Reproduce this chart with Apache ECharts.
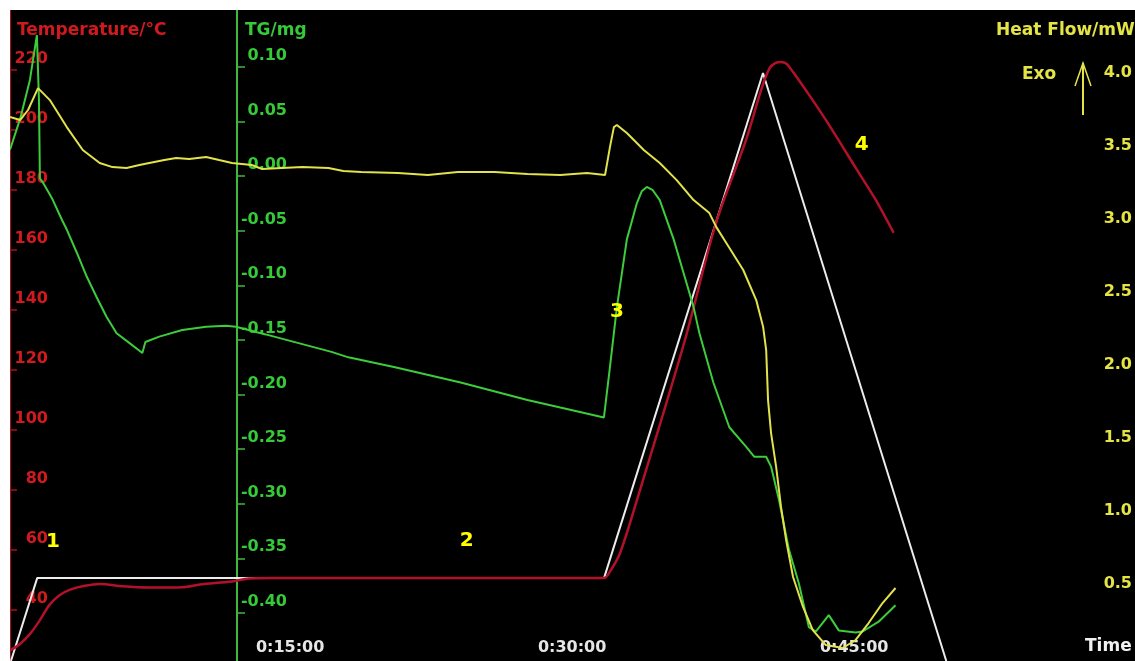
<!DOCTYPE html>
<html>
<head>
<meta charset="utf-8">
<script src="https://cdn.jsdelivr.net/npm/echarts@6/dist/echarts.min.js"></script>
<style>
  html, body { margin: 0; padding: 0; background: #ffffff; width: 1135px; height: 661px; overflow: hidden; }
  #chart { position: absolute; left: 10px; top: 10px; width: 1125px; height: 651px; }
</style>
</head>
<body>
<div id="chart"></div>
<script>
// Time in minutes, temperature in °C, TG in mg, heat flow in mW

// programmed (furnace set) temperature
const programTemp = [
  [0.15, 23], [1.55, 50.7], [31.7, 50.7], [40.15, 219], [49.9, 23]
];

// measured sample temperature
const sampleTemp = [
  [0.1, 26.5], [0.6, 28.5], [1.2, 32.3], [1.7, 36.7], [2.2, 41.7], [2.75, 45],
  [3.3, 46.8], [4.0, 48], [4.9, 48.7], [6.1, 47.9], [7.5, 47.5], [9.3, 47.6],
  [10.2, 48.5], [11.9, 49.5], [12.8, 50.5], [14, 50.7], [22, 50.7], [31.7, 50.7],
  [32.0, 52.7], [32.55, 59], [33.45, 76.7], [36.0, 130], [37.65, 169], [39.25, 196.7],
  [40.05, 213.3], [40.5, 220.6], [40.8, 222.3], [41.1, 222.7], [41.4, 222.1], [41.75, 219.3],
  [42.6, 211.7], [43.5, 203.3], [44.4, 194.3], [45.25, 185.7], [46.15, 176.7], [47.1, 165.7]
];

// thermogravimetric mass change
const tgMass = [
  [0.1, 0.024], [0.65, 0.053], [1.16, 0.088], [1.53, 0.129], [1.64, 0.070], [1.69, -0.002],
  [1.85, -0.006], [2.12, -0.014], [2.38, -0.022], [2.86, -0.040], [3.12, -0.049],
  [3.65, -0.070], [4.18, -0.092], [4.71, -0.111], [5.24, -0.129], [5.77, -0.144],
  [6.46, -0.153], [7.14, -0.162], [7.30, -0.152], [8.04, -0.147], [9.26, -0.141],
  [10.53, -0.138], [11.59, -0.137], [12.12, -0.138], [13.70, -0.145], [15.45, -0.153],
  [17.20, -0.161], [18.10, -0.166], [20.58, -0.175], [24.07, -0.189], [27.62, -0.205],
  [29.37, -0.212], [31.69, -0.221], [32.01, -0.175], [32.38, -0.120], [32.91, -0.058],
  [33.44, -0.025], [33.70, -0.014], [33.97, -0.010], [34.29, -0.013], [34.66, -0.022],
  [35.40, -0.058], [35.93, -0.089], [36.46, -0.120], [36.77, -0.144], [37.51, -0.189],
  [38.36, -0.230], [39.26, -0.248], [39.68, -0.257], [40.32, -0.257], [40.58, -0.266],
  [41.01, -0.297], [41.53, -0.342], [42.06, -0.373], [42.59, -0.413], [42.96, -0.417],
  [43.65, -0.402], [44.18, -0.416], [45.08, -0.418], [45.45, -0.417], [46.30, -0.408],
  [47.20, -0.393]
];

// DSC heat flow (exo up)
const heatFlow = [
  [0.1, 3.781], [0.64, 3.760], [1.06, 3.829], [1.59, 3.979], [2.22, 3.897], [3.12, 3.712],
  [3.97, 3.555], [4.87, 3.466], [5.55, 3.438], [6.30, 3.432], [6.98, 3.452], [7.51, 3.466],
  [8.31, 3.486], [8.94, 3.500], [9.63, 3.493], [10.53, 3.507], [11.22, 3.486],
  [11.91, 3.466], [12.96, 3.452], [13.51, 3.425], [14.55, 3.432], [15.66, 3.438],
  [17.04, 3.432], [17.83, 3.411], [18.78, 3.404], [20.74, 3.397], [22.33, 3.384],
  [23.92, 3.404], [25.87, 3.404], [27.62, 3.390], [29.37, 3.384], [30.79, 3.397],
  [31.75, 3.384], [32.01, 3.575], [32.22, 3.712], [32.38, 3.726], [32.91, 3.671],
  [33.81, 3.555], [34.66, 3.466], [35.56, 3.349], [36.46, 3.212], [37.30, 3.123],
  [37.67, 3.027], [38.20, 2.918], [39.10, 2.733], [39.79, 2.527], [40.16, 2.342],
  [40.32, 2.185], [40.42, 1.842], [40.58, 1.616], [40.85, 1.384], [41.11, 1.110],
  [41.38, 0.884], [41.75, 0.630], [42.28, 0.425], [42.80, 0.267], [43.49, 0.164],
  [44.39, 0.144], [45.08, 0.199], [45.77, 0.315], [46.51, 0.452], [47.20, 0.555]
];

// axis tick values
const timeTicks = [15, 30, 45];
const tempTicks = [40, 60, 80, 100, 120, 140, 160, 180, 200, 220];
const tgTicks = [0.10, 0.05, 0.00, -0.05, -0.10, -0.15, -0.20, -0.25, -0.30, -0.35, -0.40];
const hfTicks = [0.5, 1.0, 1.5, 2.0, 2.5, 3.0, 3.5, 4.0];

// stage numbers: [time, temperature, text]
const stageMarks = [
  [2.38, 62.7, '1'], [24.39, 63, '2'], [32.38, 139.3, '3'], [45.4, 195, '4']
];

const RED = '#d11a1f';
const GREEN = '#36c93a';
const YELLOW = '#e4e445';
const WHITE = '#ececec';
const NUM_FONT = { fontFamily: 'DejaVu Sans', fontWeight: 'bold', fontSize: 16 };
const TITLE_FONT = 'bold 17px "DejaVu Sans"';

function hms(m) {
  const h = Math.floor(m / 60), mm = Math.round(m % 60);
  return h + ':' + String(mm).padStart(2, '0') + ':00';
}

const chart = echarts.init(document.getElementById('chart'));
chart.setOption({
  animation: false,
  backgroundColor: '#000000',
  grid: { left: 0, right: 0, top: 0, bottom: 0, containLabel: false },
  xAxis: {
    type: 'value', min: 0.1, max: 59.6,
    axisLine: { show: false }, axisTick: { show: false }, splitLine: { show: false },
    axisLabel: Object.assign({
      customValues: timeTicks, inside: true, margin: 5, color: '#e6e6e6',
      verticalAlign: 'bottom', formatter: hms
    }, NUM_FONT)
  },
  yAxis: [
    {
      type: 'value', position: 'left', min: 23, max: 240,
      axisLine: { show: true, lineStyle: { color: '#a8101c', width: 2 } },
      axisTick: { show: true, customValues: tempTicks, inside: true, length: 7, lineStyle: { color: '#a8101c', width: 1.5 } },
      splitLine: { show: false },
      axisLabel: Object.assign({
        customValues: tempTicks, inside: true, margin: 38, align: 'right',
        verticalAlign: 'bottom', padding: [0, 0, 3, 0], color: RED
      }, NUM_FONT)
    },
    {
      type: 'value', position: 'left', offset: -227, min: -0.444, max: 0.152,
      axisLine: { show: true, lineStyle: { color: '#3fb83f', width: 2 } },
      axisTick: { show: true, customValues: tgTicks, inside: true, length: 8, lineStyle: { color: '#3fb83f', width: 1.5 } },
      splitLine: { show: false },
      axisLabel: Object.assign({
        customValues: tgTicks, inside: true, margin: 50, align: 'right',
        verticalAlign: 'bottom', padding: [0, 0, 3, 0], color: GREEN,
        formatter: v => v.toFixed(2)
      }, NUM_FONT)
    },
    {
      type: 'value', position: 'right', min: 0.055, max: 4.514,
      axisLine: { show: false }, axisTick: { show: false }, splitLine: { show: false },
      axisLabel: Object.assign({
        customValues: hfTicks, inside: true, margin: 25, align: 'left',
        verticalAlign: 'bottom', padding: [0, 0, 4, 0], color: YELLOW,
        formatter: v => v.toFixed(1)
      }, NUM_FONT)
    }
  ],
  series: [
    {
      name: 'Program', type: 'line', yAxisIndex: 0, data: programTemp, showSymbol: false,
      lineStyle: { color: WHITE, width: 2 }, z: 2
    },
    {
      name: 'Temperature', type: 'line', yAxisIndex: 0, data: sampleTemp, showSymbol: false,
      smooth: 0.3, lineStyle: { color: '#b3112a', width: 2.5 }, z: 3
    },
    {
      name: 'TG', type: 'line', yAxisIndex: 1, data: tgMass, showSymbol: false,
      lineStyle: { color: '#3ccc3c', width: 2 }, z: 4
    },
    {
      name: 'DSC', type: 'line', yAxisIndex: 2, data: heatFlow, showSymbol: false,
      lineStyle: { color: '#e2e24a', width: 2 }, z: 5
    },
    {
      name: 'Stages', type: 'scatter', yAxisIndex: 0, data: stageMarks, symbolSize: 0, z: 6,
      itemStyle: { opacity: 1 },
      label: {
        show: true, position: 'inside', formatter: p => p.data[2], opacity: 1,
        color: '#ffff00', fontFamily: 'DejaVu Sans', fontWeight: 'bold', fontSize: 20
      }
    }
  ],
  graphic: [
    { type: 'text', left: 7, top: 12, style: { text: 'Temperature/°C', fill: RED, font: TITLE_FONT } },
    { type: 'text', left: 235, top: 12, style: { text: 'TG/mg', fill: GREEN, font: TITLE_FONT } },
    { type: 'text', left: 986, top: 12, style: { text: 'Heat Flow/mW', fill: YELLOW, font: TITLE_FONT } },
    { type: 'text', left: 1012, top: 56, style: { text: 'Exo', fill: YELLOW, font: TITLE_FONT } },
    { type: 'polyline', shape: { points: [[1073, 105], [1073, 53]] }, style: { stroke: YELLOW, lineWidth: 2 } },
    { type: 'polyline', shape: { points: [[1065, 76], [1073, 53], [1081, 76]] }, style: { stroke: YELLOW, lineWidth: 1.5, fill: null } },
    { type: 'text', left: 1075, top: 628, style: { text: 'Time', fill: '#f0f0f0', font: TITLE_FONT } }
  ]
});
</script>
</body>
</html>
